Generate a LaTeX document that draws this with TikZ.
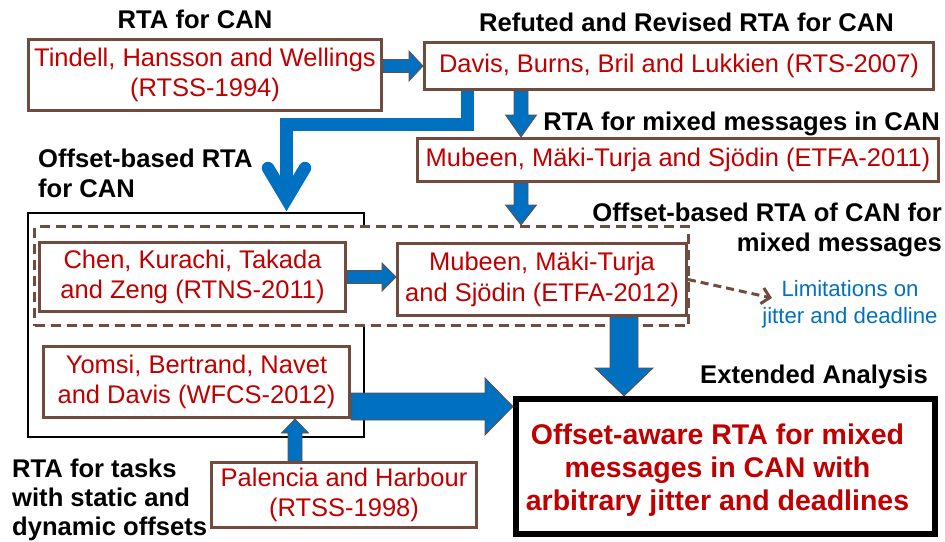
\documentclass[tikz,border=0pt]{standalone}
\usepackage{fontspec}
\setmainfont{Liberation Sans}
\usetikzlibrary{calc,arrows.meta}
\definecolor{brn}{RGB}{112,76,62}
\definecolor{redt}{RGB}{192,0,0}
\definecolor{blu}{RGB}{0,112,192}
\definecolor{blutxt}{RGB}{0,112,192}
\tikzset{
 refbox/.style={draw=brn, line width=3pt, fill=white, text=redt, align=center, inner sep=0pt, font=\fontsize{25.5}{30.5}\selectfont},
 lab/.style={font=\fontsize{25.6}{30}\selectfont\bfseries, inner sep=0pt},
 blockarrow/.style={fill=blu, draw=brn, line width=0.8pt, line join=miter},
 elbowarrow/.style={draw=blu, line width=12.5pt, line join=miter, line cap=butt},
 vhead/.style={draw=blu, line width=12.5pt, line join=miter, line cap=round},
 limarrow/.style={draw=brn, line width=3pt, dash pattern=on 8pt off 5pt, -{Straight Barb[length=8pt,width=16pt]}},
}
\newcommand\blockarr[5]{%
  \draw[blockarrow] let \p1=#1, \p2=#2,
    \n1={atan2(\y2-\y1,\x2-\x1)}, \n2={veclen(\x2-\x1,\y2-\y1)-#5} in
    ($(\p1)+(\n1+90:#3)$) -- ($(\p1)+(\n1:\n2)+(\n1+90:#3)$)
    -- ($(\p1)+(\n1:\n2)+(\n1+90:#4)$) -- (\p2)
    -- ($(\p1)+(\n1:\n2)+(\n1-90:#4)$) -- ($(\p1)+(\n1:\n2)+(\n1-90:#3)$)
    -- ($(\p1)+(\n1-90:#3)$) -- cycle;}
\begin{document}
\begin{tikzpicture}[x=1pt,y=1pt]
\useasboundingbox (0,0) rectangle (945,-541);
% outer boxes
\node[draw=black, line width=2pt, minimum width=336pt, minimum height=224pt, inner sep=0pt] (offbox) at (196,-325) {};
\node[draw=brn, line width=3pt, dash pattern=on 10pt off 6pt, fill=white, minimum width=654pt, minimum height=99pt, inner sep=0pt] (dashbox) at (361.5,-276) {};
% reference boxes
\node[refbox, minimum width=353pt, minimum height=71pt] (tindell) at (205,-75) {Tindell, Hansson and Wellings\\(RTSS-1994)};
\node[refbox, minimum width=509pt, minimum height=47pt] (davis) at (679,-66) {Davis, Burns, Bril and Lukkien (RTS-2007)};
\node[refbox, minimum width=521pt, minimum height=43pt] (mub11) at (678,-160) {Mubeen, Mäki-Turja and Sjödin (ETFA-2011)};
\node[refbox, minimum width=306pt, minimum height=69pt] (chen) at (192.5,-277) {Chen, Kurachi, Takada\\and Zeng (RTNS-2011)};
\node[refbox, minimum width=289pt, minimum height=72pt] (mub12) at (542,-279.5) {Mubeen, Mäki-Turja\\and Sjödin (ETFA-2012)};
\node[refbox, minimum width=306pt, minimum height=71pt] (yomsi) at (196.5,-382) {Yomsi, Bertrand, Navet\\and Davis (WFCS-2012)};
\node[refbox, minimum width=265pt, minimum height=65pt] (palencia) at (344,-495) {Palencia and Harbour\\(RTSS-1998)};
\node[draw=black, line width=6pt, fill=white, minimum width=419pt, minimum height=135pt, inner sep=0pt] (final) at (725.5,-466.5) {};
\node[font=\fontsize{28.5}{33}\selectfont\bfseries, text=redt, align=center, anchor=north, inner sep=0pt] (finaltxt) at (717.5,-423.2) {Offset-aware RTA for mixed\\messages in CAN with\\arbitrary jitter and deadlines};
% helper coordinates
\coordinate (ax1) at (521,0);
\coordinate (ax2) at (624,0);
\coordinate (ay3) at (0,-406.5);
\coordinate (ax4) at (295,0);
\coordinate (ax5) at (467.5,0);
\coordinate (bend) at (286.5,-124.5);
\coordinate (vtip) at ($(bend |- offbox.north)+(0,13)$);
\coordinate (limend) at (772,-298);
% block arrows
\blockarr{(tindell.east |- davis.west)}{(davis.west)}{6.5}{15}{14}
\blockarr{(ax1 |- davis.south)}{(ax1 |- mub11.north)}{7}{15.5}{22}
\blockarr{(ax1 |- mub11.south)}{(ax1 |- dashbox.north)}{7}{15.5}{20}
\blockarr{(chen.east)}{(mub12.west |- chen.east)}{6.5}{14}{14}
\blockarr{(ax2 |- mub12.south)}{(ax2 |- final.north)}{14}{29}{28}
\blockarr{(yomsi.east |- ay3)}{(final.west |- ay3)}{13.5}{28.5}{28}
\blockarr{(ax4 |- palencia.north)}{(ax4 |- yomsi.south)}{7}{13.5}{14}
% elbow arrow
\draw[elbowarrow] (ax5 |- davis.south) |- (bend) -- (vtip);
\draw[vhead] ($(vtip)+(-18.5,31)$) -- (vtip) -- ($(vtip)+(18.5,31)$);
% dashed arrow
\draw[limarrow] (mub12.east) -- (limend);
\node[font=\fontsize{22.2}{27}\selectfont, text=blutxt, align=center, anchor=north, inner sep=0pt] (lim) at (850,-280) {Limitations on\\jitter and deadline};
% labels
\node[lab, anchor=base] (l1) at (195,-28) {RTA for CAN};
\node[lab, anchor=base] (l2) at (686.5,-31) {Refuted and Revised RTA for CAN};
\node[lab, anchor=base east] (l3) at (940,-130) {RTA for mixed messages in CAN};
\node[lab, anchor=north west, align=left] (l4) at (38,-148.7) {Offset-based RTA\\for CAN};
\node[lab, anchor=north east, align=right] (l5) at (942,-202.7) {Offset-based RTA of CAN for\\mixed messages};
\node[lab, anchor=base west] (l6) at (700,-383) {Extended Analysis};
\node[lab, anchor=north west, align=left, font=\fontsize{25.6}{29}\selectfont\bfseries] (l7) at (12,-458.7) {RTA for tasks\\with static and\\dynamic offsets};
\end{tikzpicture}
\end{document}
